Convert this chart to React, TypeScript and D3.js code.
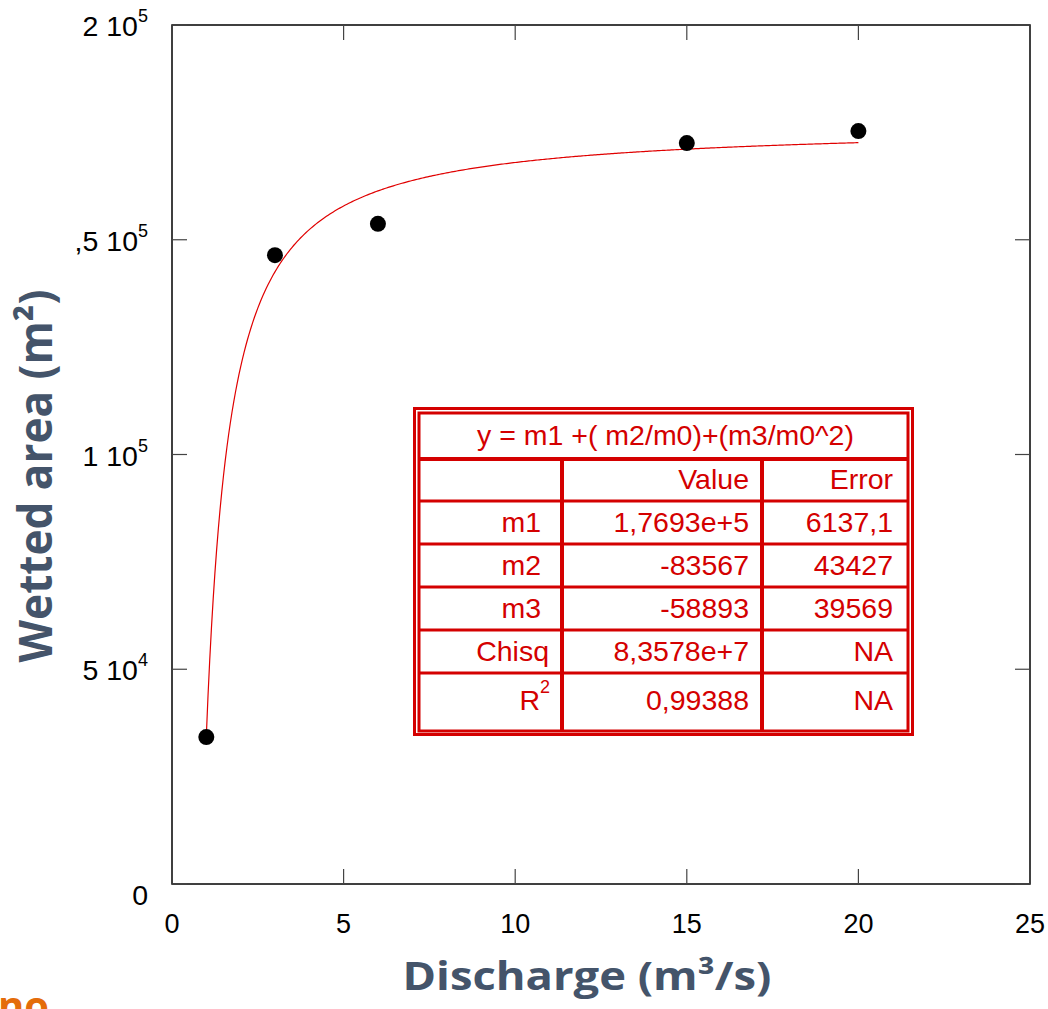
import React from "react";
import * as d3 from "d3";

// measured points
const discharge = [1, 3, 6, 15, 20];
const wettedArea = [34200, 146400, 153700, 172500, 175300];

// fitted parameters y = m1 + m2/x + m3/x^2
const fitM1 = 176930;
const fitM2 = -83567;
const fitM3 = -58893;

const xTicks = [0, 5, 10, 15, 20, 25];
const yTicks = [0, 50000, 100000, 150000, 200000];
const yTickMantissa = ["0", "5 10", "1 10", ",5 10", "2 10"];
const yTickExponent = ["", "4", "5", "5", "5"];

const tableTitle = "y = m1 +( m2/m0)+(m3/m0^2)";
const tableHeader = ["", "Value", "Error"];
const tableNames = ["m1", "m2", "m3", "Chisq", "R"];
const tableValues = ["1,7693e+5", "-83567", "-58893", "8,3578e+7", "0,99388"];
const tableErrors = ["6137,1", "43427", "39569", "NA", "NA"];

const W = 1048;
const H = 1009;
const left = 172, right = 1030, top = 25, bottom = 884;
const RED = "#d40000";
const LABEL = "#44546a";

const App = () => {
  const x = d3.scaleLinear().domain([0, 25]).range([left, right]);
  const y = d3.scaleLinear().domain([0, 200000]).range([bottom, top]);

  const curveX = d3.range(1, 20.001, 0.05);
  const line = d3
    .line<number>()
    .x((d) => x(d))
    .y((d) => y(fitM1 + fitM2 / d + fitM3 / (d * d)));

  // table layout
  const tL = 419, tR = 908, tT = 413, tB = 731;
  const colX = [tL, 562, 762, tR];
  const rowY = [tT, 459, 501, 544, 587, 630, 673, tB];
  const colRight = [541, 749, 893];
  const baselines = [489, 532, 575, 618, 661, 710];
  const tFont = "'Liberation Sans', Arial, sans-serif";
  const tSize = 28.5;

  return (
    <svg
      width={W}
      height={H}
      style={{ position: "absolute", left: 0, top: 0, background: "#fff" }}
      fontFamily="'Liberation Sans', Arial, sans-serif"
    >
      <rect x={0} y={0} width={W} height={H} fill="#fff" />

      {/* frame */}
      <rect x={left} y={top} width={right - left} height={bottom - top} fill="none" stroke="#000" strokeWidth={1.5} />

      {/* x ticks, inside, bottom and top */}
      {xTicks.map((t, i) => (
        <g key={"xt" + i}>
          <line x1={x(t)} x2={x(t)} y1={bottom} y2={bottom - 15} stroke="#444" strokeWidth={1.2} />
          <line x1={x(t)} x2={x(t)} y1={top} y2={top + 15} stroke="#444" strokeWidth={1.2} />
          <text x={x(t)} y={933} textAnchor="middle" fontSize={27} fill="#000">
            {t}
          </text>
        </g>
      ))}

      {/* y ticks, inside, left and right */}
      {yTicks.map((t, i) => (
        <g key={"yt" + i}>
          <line x1={left} x2={left + 15} y1={y(t)} y2={y(t)} stroke="#444" strokeWidth={1.2} />
          <line x1={right - 15} x2={right} y1={y(t)} y2={y(t)} stroke="#444" strokeWidth={1.2} />
          <text x={148} y={t === 0 ? 905 : y(t) + 11} textAnchor="end" fontSize={28.5} fill="#000">
            {yTickMantissa[i]}
            {yTickExponent[i] && (
              <tspan dy={-14} fontSize={18}>
                {yTickExponent[i]}
              </tspan>
            )}
          </text>
        </g>
      ))}

      {/* fit curve */}
      <path d={line(curveX) || ""} fill="none" stroke="#e00000" strokeWidth={1.2} />

      {/* points */}
      {discharge.map((d, i) => (
        <circle key={"p" + i} cx={x(d)} cy={y(wettedArea[i])} r={8} fill="#000" />
      ))}

      {/* fit table */}
      <g fontFamily={tFont} fill={RED}>
        <rect x={tL} y={tT} width={tR - tL} height={tB - tT} fill="#fff" stroke="none" />
        <rect x={414.5} y={408.5} width={498} height={326} fill="none" stroke={RED} strokeWidth={3} />
        <rect x={tL} y={tT} width={tR - tL} height={tB - tT} fill="none" stroke={RED} strokeWidth={3} />
        {rowY.slice(1, -1).map((ry, i) => (
          <line key={"r" + i} x1={tL} x2={tR} y1={ry} y2={ry} stroke={RED} strokeWidth={i === 0 ? 4 : 3} />
        ))}
        {colX.slice(1, -1).map((cx, i) => (
          <line key={"c" + i} x1={cx} x2={cx} y1={rowY[1]} y2={tB} stroke={RED} strokeWidth={4} />
        ))}
        <text x={(tL + tR) / 2 + 2} y={445} textAnchor="middle" fontSize={tSize} stroke="none">
          {tableTitle}
        </text>
        {tableHeader.map((h, j) => (
          <text key={"h" + j} x={colRight[j]} y={baselines[0]} textAnchor="end" fontSize={tSize}>
            {h}
          </text>
        ))}
        {tableNames.map((n, i) => (
          <g key={"row" + i}>
            <text x={n === "R" ? 550 : n === "Chisq" ? 549 : colRight[0]} y={baselines[i + 1]} textAnchor="end" fontSize={tSize}>
              {n}
              {n === "R" && (
                <tspan dy={-17} fontSize={18}>
                  2
                </tspan>
              )}
            </text>
            <text x={colRight[1]} y={baselines[i + 1]} textAnchor="end" fontSize={tSize}>
              {tableValues[i]}
            </text>
            <text x={colRight[2]} y={baselines[i + 1]} textAnchor="end" fontSize={tSize}>
              {tableErrors[i]}
            </text>
          </g>
        ))}
      </g>

      {/* axis titles */}
      <text
        x={587}
        y={990}
        textAnchor="middle"
        fontFamily="'Open Sans', sans-serif"
        fontWeight="bold"
        fontSize={39}
        fill={LABEL}
        textLength={369}
        lengthAdjust="spacingAndGlyphs"
      >
        Discharge (m³/s)
      </text>
      <text
        transform="translate(52,476) rotate(-90)"
        textAnchor="middle"
        fontFamily="'Open Sans', sans-serif"
        fontWeight="bold"
        fontSize={46}
        fill={LABEL}
        textLength={373}
        lengthAdjust="spacingAndGlyphs"
      >
        Wetted area (m²)
      </text>

      {/* cropped footer text */}
      <text x={-2} y={1020} fontFamily="'Open Sans', sans-serif" fontWeight="bold" fontSize={40} fill="#e46c0a">
        no
      </text>
    </svg>
  );
};

export default App;
